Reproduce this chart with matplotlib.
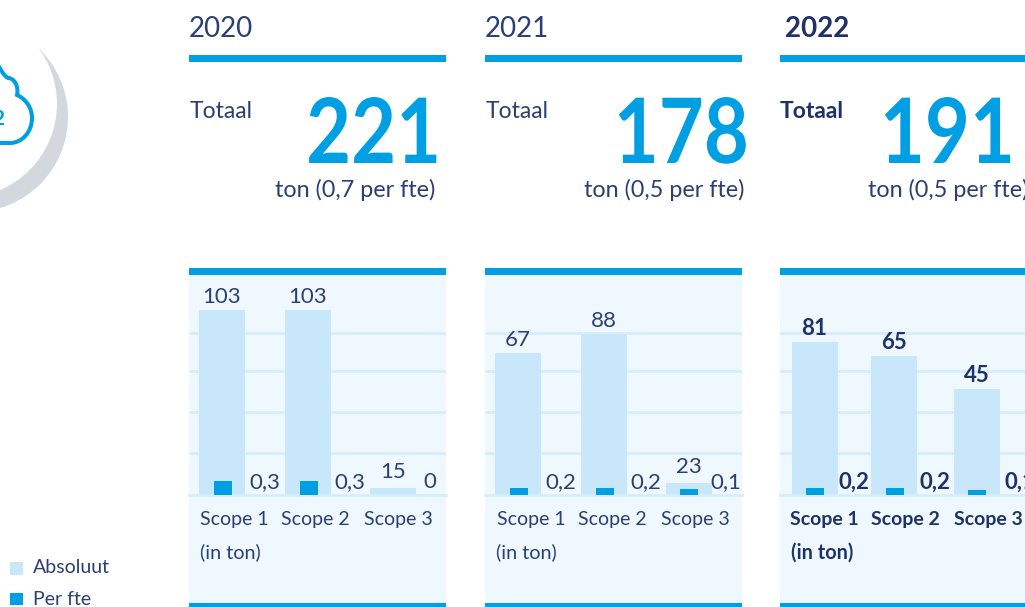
import matplotlib
matplotlib.use("Agg")
import matplotlib.pyplot as plt
from matplotlib.patches import Circle, PathPatch, Rectangle
from matplotlib.path import Path
from matplotlib.patheffects import AbstractPathEffect
from matplotlib.transforms import Affine2D

plt.rcParams['font.family'] = ['Lato', 'DejaVu Sans']

NAVY = "#2b3f75"
BOLD_NAVY = "#1f3268"
BLUE = "#009fe3"
LIGHT = "#c9e7fb"
GRID = "#d6edfc"
PANEL = "#eff8fe"
GREY = "#d2d8de"

W, H = 1025, 607

years = ["2020", "2021", "2022"]
totals = ["221", "178", "191"]
per_fte_totals = ["0,7", "0,5", "0,5"]
scopes = ["Scope 1", "Scope 2", "Scope 3"]

# printed labels
abs_labels = [["103", "103", "15"], ["67", "88", "23"], ["81", "65", "45"]]
fte_labels = [["0,3", "0,3", "0"], ["0,2", "0,2", "0,1"], ["0,2", "0,2", "0,1"]]

# bar lengths as drawn in the source, which is not quite to scale with the labels
abs_heights = [[103, 103, 3.5], [79, 89.5, 6.4], [85, 77.5, 59]]
fte_heights = [[7.8, 7.8, 0], [3.6, 3.6, 2.8], [3.6, 3.6, 2.5]]
grid_values = [23, 46, 69, 90]

panel_left = [189, 485, 780]
bar_pos = [[33, 119, 204], [33, 119, 204], [34.5, 114, 197]]
fte_pos = [[33.5, 119.5, 204], [33.5, 119.5, 204], [34.5, 115, 197]]
fte_lab_pos = [[76, 161, 241], [76, 161, 241], [74, 155, 240]]
scope_left = [[11, 92, 175], [12, 93, 176], [10, 91, 174]]
total_right = [252, 264, 235]
sub_left = [86, 99, 88]


class Squeeze(AbstractPathEffect):
    # the big totals are narrower in the source than any installed bold
    def __init__(self, x0, factor):
        super().__init__()
        self.x0 = x0
        self.factor = factor

    def draw_path(self, renderer, gc, tpath, affine, rgbFace=None):
        squeeze = Affine2D().translate(-self.x0, 0).scale(self.factor, 1).translate(self.x0, 0)
        renderer.draw_path(gc, tpath, affine + squeeze, rgbFace)


fig = plt.figure(figsize=(W / 100, H / 100), dpi=100, facecolor="white")

# overlay in pixel coordinates for the furniture and text
bg = fig.add_axes([0, 0, 1, 1], zorder=0)
bg.set_xlim(0, W)
bg.set_ylim(H, 0)
bg.axis("off")

fg = fig.add_axes([0, 0, 1, 1], zorder=5)
fg.set_xlim(0, W)
fg.set_ylim(H, 0)
fg.axis("off")
fg.patch.set_alpha(0)

# crescent and cloud icon, cut off by the left edge
bg.add_patch(Circle((-27, 117), 95, color=GREY, lw=0))
bg.add_patch(Circle((-36.8, 103.8), 93.8, color="white", lw=0))
C = Path.CURVE4
cloud = Path(
    [(-2, 65), (1, 70), (4, 76), (8, 78),
     (14, 78), (19, 86), (17, 95),
     (26, 99), (32, 108), (32, 118),
     (32, 132), (22, 143), (10, 143),
     (5, 143), (2, 143), (-6, 143)],
    [Path.MOVETO, C, C, C, C, C, C, C, C, C, C, C, C, C, C, C],
)
bg.add_patch(PathPatch(cloud, fc="none", ec=BLUE, lw=2.9))
bg.text(4, 125, "2", color=BLUE, fontsize=15, fontweight="bold", ha="right", va="baseline")

for i, year in enumerate(years):
    left = panel_left[i]
    bold = i == 2
    weight = "bold" if bold else "normal"
    ink = BOLD_NAVY if bold else NAVY
    width = 257

    # header block
    bg.text(left + (5 if bold else 0), 37, year, color=ink, fontsize=20, fontweight=weight,
            ha="left", va="baseline")
    bg.add_patch(Rectangle((left, 55), width, 7, color=BLUE, lw=0))
    bg.text(left + (0 if bold else 1), 118, "Totaal", color=ink, fontsize=16.5, fontweight=weight,
            ha="left", va="baseline")
    bg.text(left + total_right[i], 163, totals[i], color=BLUE, fontsize=65, fontweight="bold",
            ha="right", va="baseline",
            path_effects=[Squeeze(left + total_right[i], 0.86)])
    bg.text(left + sub_left[i], 197, "ton (" + per_fte_totals[i] + " per fte)", color=NAVY, fontsize=16.8,
            ha="left", va="baseline")

    # panel background
    bg.add_patch(Rectangle((left, 275), width, 328, color=PANEL, lw=0))
    bg.add_patch(Rectangle((left, 268), width, 7, color=BLUE, lw=0))
    bg.add_patch(Rectangle((left, 603), width, 4, color=BLUE, lw=0))

    # bars
    ax = fig.add_axes([left / W, 1 - 494.5 / H, width / W, 219.5 / H], zorder=2)
    ax.patch.set_alpha(0)
    ax.set_xlim(0, width)
    ax.set_ylim(0, 219.5 / 1.79)
    ax.set_yticks(grid_values)
    ax.set_xticks([])
    ax.tick_params(left=False, labelleft=False)
    ax.grid(axis="y", color=GRID, lw=2)
    ax.set_axisbelow(True)
    for s in ["top", "left", "right"]:
        ax.spines[s].set_visible(False)
    ax.spines["bottom"].set_color(GRID)
    ax.spines["bottom"].set_linewidth(2)
    ax.bar(bar_pos[i], abs_heights[i], width=46, color=LIGHT, lw=0, zorder=2)
    ax.bar(fte_pos[i], fte_heights[i], width=18, color=BLUE, lw=0, zorder=3)

    for j in range(3):
        # short bars have their label lifted a little more
        lift = 6 if abs_heights[i][j] < 10 else 3
        ax.annotate(abs_labels[i][j], (bar_pos[i][j], abs_heights[i][j]), xytext=(0, lift),
                    textcoords="offset pixels", ha="center", va="bottom", color=ink,
                    fontsize=16, fontweight=weight, zorder=6)
        fg.text(left + fte_lab_pos[i][j], 488.5, fte_labels[i][j], color=ink, fontsize=16,
                fontweight=weight, ha="center", va="baseline")
        fg.text(left + scope_left[i][j], 524.5, scopes[j], color=ink,
                fontsize=14, fontweight=weight, ha="left", va="baseline")
    fg.text(left + 11, 558.5, "(in ton)", color=ink, fontsize=14.3, fontweight=weight,
            ha="left", va="baseline")

# legend
bg.add_patch(Rectangle((10, 562), 13, 13, color=LIGHT, lw=0))
bg.text(33, 573, "Absoluut", color=NAVY, fontsize=14, ha="left", va="baseline")
bg.add_patch(Rectangle((10, 593), 13, 12, color=BLUE, lw=0))
bg.text(33, 605, "Per fte", color=NAVY, fontsize=14, ha="left", va="baseline")

fig.savefig("out.png", dpi=100)
